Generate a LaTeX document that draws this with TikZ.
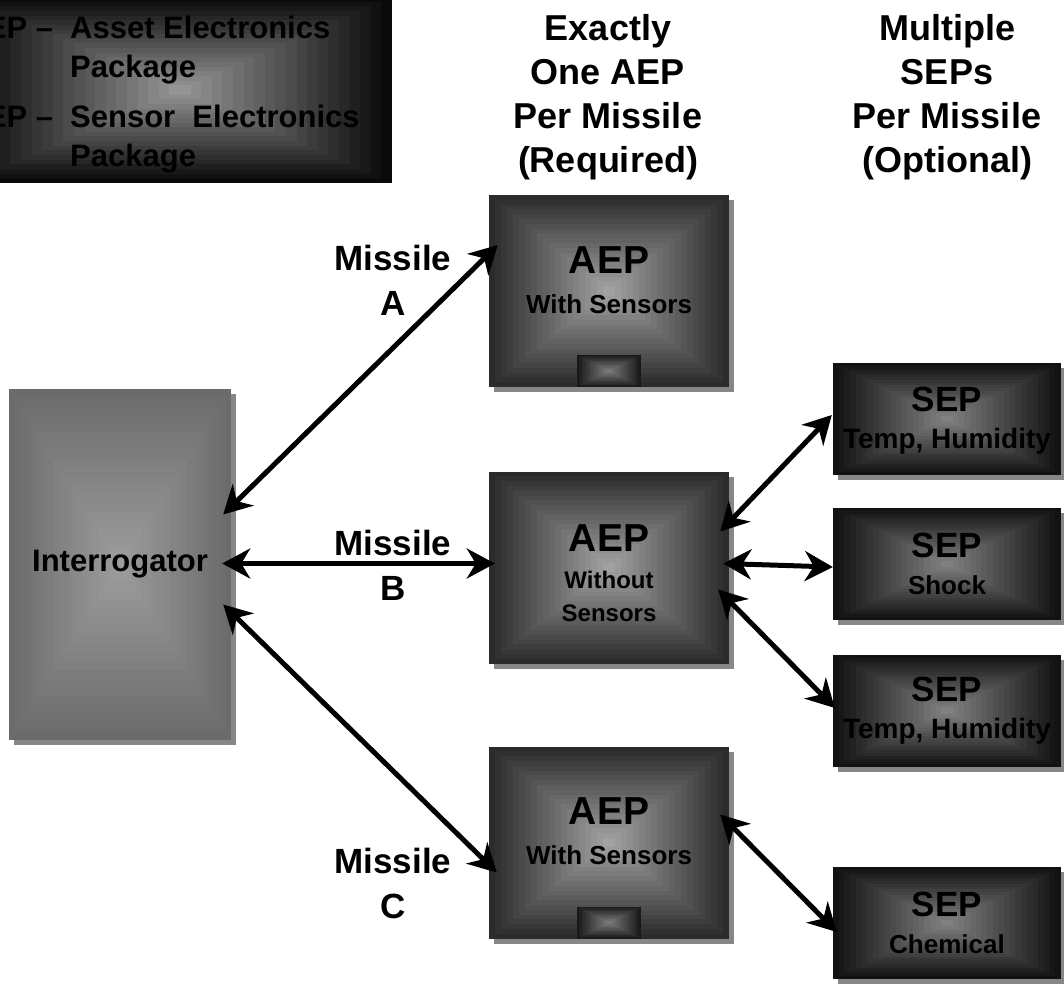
\documentclass[tikz,border=0pt]{standalone}
\usepackage{fontspec}
\setmainfont{Liberation Sans}
\usetikzlibrary{arrows.meta,calc,shadows}

\definecolor{aepdark}{gray}{0.17}
\definecolor{aeplight}{gray}{0.63}
\definecolor{sepdark}{gray}{0.07}
\definecolor{seplight}{gray}{0.50}
\definecolor{interdark}{gray}{0.42}
\definecolor{interlight}{gray}{0.61}
\definecolor{keydark}{gray}{0.04}
\definecolor{keylight}{gray}{0.58}
\definecolor{chipdark}{gray}{0.10}
\definecolor{chiplight}{gray}{0.48}
\definecolor{shadowgray}{gray}{0.53}

\begin{document}
\begin{tikzpicture}[x=1pt,y=-1pt,
	shadebox/.style 2 args={fill=#1, path picture={
		\foreach \k in {0,...,19}{
			\pgfmathsetmacro\t{\k/40}
			\pgfmathtruncatemacro\m{100*\k/19}
			\fill[#2!\m!#1] ($(path picture bounding box.south west)!\t!(path picture bounding box.north east)$)
				rectangle ($(path picture bounding box.north east)!\t!(path picture bounding box.south west)$);
		}}},
	box/.style={rectangle, inner sep=0pt, align=center,
		drop shadow={shadow xshift=5pt, shadow yshift=-5pt, fill=shadowgray, opacity=1}},
	aep/.style={box, minimum width=240pt, minimum height=192pt, shadebox={aepdark}{aeplight},
		font=\bfseries\fontsize{26}{40}\selectfont},
	sep/.style={box, minimum width=228pt, minimum height=112pt, shadebox={sepdark}{seplight},
		font=\bfseries\fontsize{26}{37}\selectfont},
	chip/.style={rectangle, inner sep=0pt, minimum width=64pt, minimum height=32pt, shadebox={chipdark}{chiplight}},
	head/.style={align=center, font=\bfseries\fontsize{36}{44}\selectfont},
	link/.style={{Stealth[length=28pt,width=30pt,inset=9pt]}-{Stealth[length=28pt,width=30pt,inset=9pt]}, line width=5pt}
	]
	\useasboundingbox (0,0) rectangle (1064,984);

	\node[rectangle, minimum width=424pt, minimum height=186pt, shadebox={keydark}{keylight}] (key) at (180,90) {};
	\node[anchor=west, inner sep=0pt, align=left, font=\bfseries\fontsize{31}{39}\selectfont] (keytext) at (-30,95)
		{\makebox[83pt][r]{AEP --}\hspace{17pt}Asset Electronics\\
		\hspace*{100pt}Package\\[11pt]
		\makebox[83pt][r]{SEP --}\hspace{17pt}Sensor\ \ Electronics\\
		\hspace*{100pt}Package};

	\node[head] (aephead) at (608,97) {Exactly\\One AEP\\Per Missile\\(Required)};
	\node[head] (sephead) at (947,97) {Multiple\\SEPs\\Per Missile\\(Optional)};

	\node[box, minimum width=222pt, minimum height=351pt, shadebox={interdark}{interlight},
		font=\bfseries\fontsize{31}{38}\selectfont] (inter) at (120,564.5) {Interrogator};

	\node[aep, text depth=22pt] (aepA) at (609,291) {{\fontsize{39}{40}\selectfont AEP}\\With Sensors};
	\node[chip, anchor=south] (chipA) at (aepA.south) {};
	\node[aep, text height=109pt, font=\bfseries\fontsize{24}{33}\selectfont] (aepB) at (609,567.5)
		{{\fontsize{39}{33}\selectfont AEP}\\[4pt]Without\\Sensors};
	\node[aep, text depth=22pt] (aepC) at (609,842.5) {{\fontsize{39}{40}\selectfont AEP}\\With Sensors};
	\node[chip, anchor=south] (chipC) at (aepC.south) {};

	\node[sep, text depth=2pt, font=\bfseries\fontsize{28}{37}\selectfont] (sepA) at (947,419) {{\fontsize{35}{37}\selectfont SEP}\\Temp, Humidity};
	\node[sep] (sepB) at (947,564) {{\fontsize{35}{37}\selectfont SEP}\\Shock};
	\node[sep, font=\bfseries\fontsize{28}{37}\selectfont] (sepC) at (947,711) {{\fontsize{35}{37}\selectfont SEP}\\Temp, Humidity};
	\node[sep] (sepD) at (947,923) {{\fontsize{35}{39}\selectfont SEP}\\Chemical};

	\node[head, font=\bfseries\fontsize{35}{45}\selectfont] (misA) at (393,280) {Missile\\A};
	\node[head, font=\bfseries\fontsize{35}{45}\selectfont] (misB) at (393,565) {Missile\\B};
	\node[head, font=\bfseries\fontsize{35}{45}\selectfont] (misC) at (393,883) {Missile\\C};

	\draw[link] ([shift={(-8,-50)}]inter.east) -- ([shift={(9,-46)}]aepA.west);
	\draw[link] ([shift={(-9,-1)}]inter.east) -- ([shift={(6,-4)}]aepB.west);
	\draw[link] ([shift={(-8,40)}]inter.east) -- ([shift={(8,30)}]aepC.west);
	\draw[link] ([shift={(-9,-36)}]aepB.east) -- ([shift={(-1,-4)}]sepA.west);
	\draw[link] ([shift={(-6,-4)}]aepB.east) -- ([shift={(0,3)}]sepB.west);
	\draw[link] ([shift={(-11,22)}]aepB.east) -- ([shift={(2,-3)}]sepC.west);
	\draw[link] ([shift={(-9,-28)}]aepC.east) -- ([shift={(4,9)}]sepD.west);
\end{tikzpicture}
\end{document}
